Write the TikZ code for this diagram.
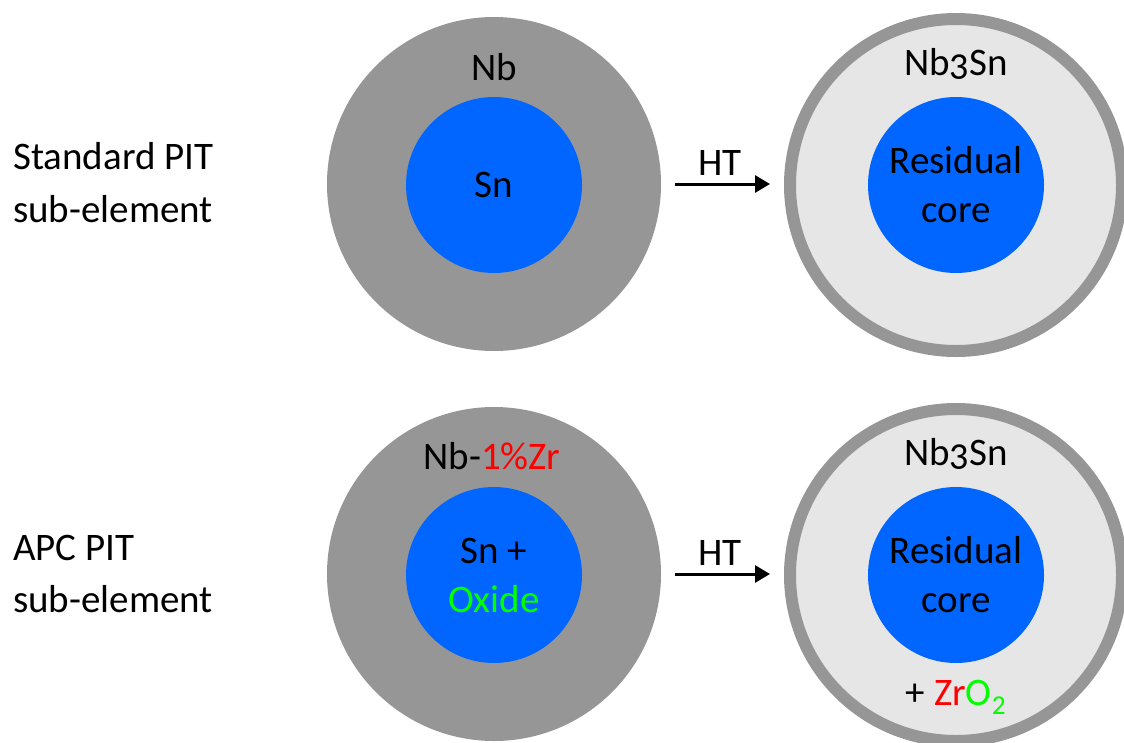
\documentclass[tikz,border=0pt]{standalone}
\usepackage{fontspec}
\setmainfont{Carlito}
\usetikzlibrary{arrows.meta}
\definecolor{shellgray}{HTML}{969696}
\definecolor{phasegray}{HTML}{E6E6E6}
\definecolor{coreblue}{HTML}{0066FF}
\definecolor{zrred}{HTML}{FF0000}
\definecolor{oxgreen}{HTML}{00FF00}
\newcommand{\oldthree}{{\addfontfeature{Numbers=OldStyle}3}}
\tikzset{
  shell/.style={circle, fill=shellgray, minimum size=334pt, inner sep=0pt},
  reacted/.style={circle, draw=shellgray, line width=12pt, fill=phasegray, minimum size=332pt, inner sep=0pt},
  core/.style={circle, fill=coreblue, minimum size=176pt, inner sep=0pt},
  lbl/.style={inner sep=0pt, anchor=base, font=\fontsize{39}{49}\selectfont},
  sidelbl/.style={lbl, anchor=base west},
  htarrow/.style={line width=3pt, -{Triangle[length=15pt, width=17pt]}}
}
\begin{document}
\begin{tikzpicture}[x=1pt, y=-1pt]
  \useasboundingbox (0,0) rectangle (1124,742);
  \clip (0,0) rectangle (1124,742);

  % standard PIT sub-element
  \node[shell] (nbA) at (494,184) {};
  \node[core] (snA) at (494,185) {};
  \node[reacted] (nbsnA) at (956,185) {};
  \node[core] (resA) at (956,185) {};
  \node[lbl] (nbA-t) at (494,80) {Nb};
  \node[lbl] (snA-t) at (494,197) {Sn};
  \node[lbl] (nbsnA-t) at (956,75) {Nb\oldthree Sn};
  \node[lbl] (resA-t1) at (956,173) {Residual};
  \node[lbl] (resA-t2) at (956,222) {core};
  \node[sidelbl] (stdA) at (13,169) {Standard PIT};
  \node[sidelbl] (stdB) at (13,222) {sub-element};
  \coordinate (arA-s) at (675,184);
  \coordinate (arA-e) at (770,184);
  \draw[htarrow] (arA-s) -- (arA-e);
  \node[lbl] (htA) at (720,175) {HT};

  % APC PIT sub-element
  \node[shell] (nbB) at (494,574) {};
  \node[core] (snB) at (494,575) {};
  \node[reacted] (nbsnB) at (956,575) {};
  \node[core] (resB) at (956,575) {};
  \node[lbl] (nbB-t) at (492,469) {Nb-\textcolor{zrred}{1\%Zr}};
  \node[lbl] (snB-t1) at (494,563) {Sn +};
  \node[lbl] (snB-t2) at (494,612) {\textcolor{oxgreen}{Oxide}};
  \node[lbl] (nbsnB-t) at (956,465) {Nb\oldthree Sn};
  \node[lbl] (resB-t1) at (956,563) {Residual};
  \node[lbl] (resB-t2) at (956,612) {core};
  \node[lbl] (zro) at (956,705) {+ \textcolor{zrred}{Zr}\textcolor{oxgreen}{O\textsubscript{2}}};
  \node[sidelbl] (apcA) at (13,560) {APC PIT};
  \node[sidelbl] (apcB) at (13,612) {sub-element};
  \coordinate (arB-s) at (675,574);
  \coordinate (arB-e) at (770,574);
  \draw[htarrow] (arB-s) -- (arB-e);
  \node[lbl] (htB) at (720,565) {HT};
\end{tikzpicture}
\end{document}
